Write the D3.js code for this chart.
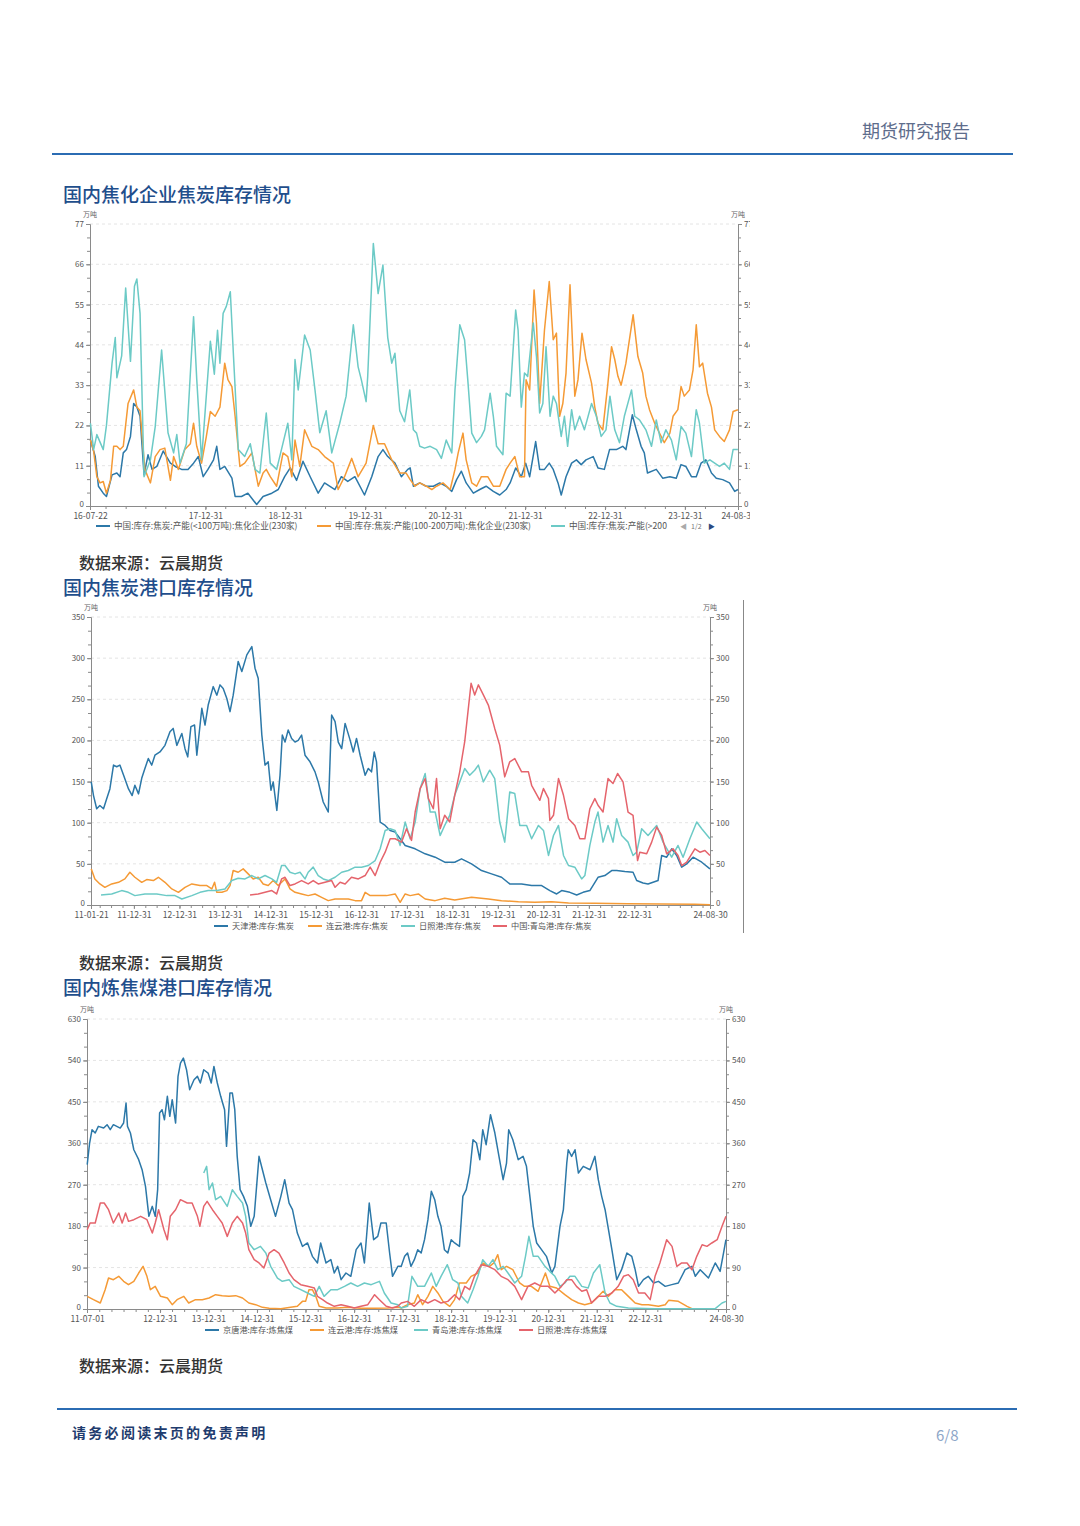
<!DOCTYPE html>
<html>
<head>
<meta charset="utf-8">
<script src="https://cdn.jsdelivr.net/npm/d3@7"></script>
<style>
  body { margin: 0; background: #fff; }
  text { font-family: "Noto Sans CJK SC", "Noto Sans", sans-serif; }
</style>
</head>
<body>
<div id="page"></div>
<script>
"use strict"

/* ---- data: chart 1, coke stock at coking plants (decimal year, 10k t) ---- */
let plantNames = ["中国:库存:焦炭:产能(<100万吨):焦化企业(230家)",
    "中国:库存:焦炭:产能(100-200万吨):焦化企业(230家)",
    "中国:库存:焦炭:产能(>200万吨):焦化企业(230家)"];
let plantTickLabels = ["16-07-22", "17-12-31", "18-12-31", "19-12-31", "20-12-31",
    "21-12-31", "22-12-31", "23-12-31", "24-08-30"];
let plantYTicks = [0, 11, 22, 33, 44, 55, 66, 77];

let plantSmall = [[2016.56,18],[2016.62,13.5],[2016.66,5.4],[2016.72,3.5],[2016.76,2.6],[2016.83,8.5],[2016.89,9],[2016.93,8],[2016.97,14.5],[2017.01,15.4],[2017.06,19],[2017.10,28],[2017.14,27],[2017.18,24.5],[2017.23,8.5],[2017.28,14],[2017.33,10],[2017.39,10.8],[2017.47,15],[2017.56,11.7],[2017.62,10.8],[2017.70,10],[2017.78,10],[2017.85,11.7],[2017.91,13.5],[2017.97,8],[2018.03,10],[2018.10,12.6],[2018.14,16.3],[2018.18,10],[2018.24,10.8],[2018.33,7.6],[2018.37,2.6],[2018.45,2.6],[2018.53,3.5],[2018.64,0.4],[2018.72,2.6],[2018.83,3.5],[2018.91,4.5],[2018.99,8],[2019.06,10.4],[2019.14,7],[2019.22,12.2],[2019.31,8],[2019.41,3.5],[2019.49,6.3],[2019.62,4.5],[2019.70,8],[2019.78,6.7],[2019.87,8],[2019.99,3],[2020.08,8],[2020.16,13.5],[2020.22,15.4],[2020.28,13.5],[2020.37,11.7],[2020.45,8],[2020.53,10],[2020.56,10.4],[2020.60,5.4],[2020.68,6.3],[2020.76,5.4],[2020.85,5.4],[2020.93,6.3],[2021.01,5.4],[2021.08,4],[2021.14,7.2],[2021.20,9.5],[2021.26,6.3],[2021.35,3.5],[2021.43,4.5],[2021.51,5.4],[2021.60,4],[2021.68,3],[2021.76,4.5],[2021.81,6.3],[2021.88,10.4],[2021.95,8],[2022.005,11.7],[2022.055,8],[2022.13,17.6],[2022.18,10],[2022.24,10],[2022.30,11.7],[2022.35,10],[2022.41,6.3],[2022.45,3],[2022.51,8],[2022.58,11.7],[2022.64,12.6],[2022.70,11.3],[2022.76,12.6],[2022.85,13.5],[2022.91,10.4],[2022.99,10],[2023.055,15.4],[2023.14,15.4],[2023.22,16.3],[2023.26,15.4],[2023.34,24.9],[2023.39,20.8],[2023.45,16.3],[2023.49,14.5],[2023.53,9],[2023.64,10],[2023.72,7.6],[2023.81,8],[2023.89,7.6],[2023.95,11.3],[2024.01,10.8],[2024.08,8],[2024.14,8],[2024.20,11.7],[2024.26,12.6],[2024.33,9],[2024.39,7.6],[2024.47,7.2],[2024.555,6.3],[2024.62,4],[2024.66,4.5]];

let plantMid = [[2016.56,18],[2016.60,15],[2016.64,8],[2016.68,6.3],[2016.72,6.7],[2016.76,3.5],[2016.81,7],[2016.85,16.3],[2016.89,16.3],[2016.93,15.4],[2016.97,16.3],[2017.03,28],[2017.10,31.7],[2017.14,27],[2017.18,26],[2017.24,10],[2017.31,6.3],[2017.37,13.5],[2017.43,15.4],[2017.49,15.8],[2017.56,7],[2017.60,13.5],[2017.66,10],[2017.74,15.4],[2017.81,17],[2017.85,22.6],[2017.89,16.3],[2017.95,11.7],[2018.01,19],[2018.06,25.8],[2018.12,24.5],[2018.18,27],[2018.24,39],[2018.28,34.5],[2018.33,32.6],[2018.37,24.5],[2018.43,10.8],[2018.49,11.7],[2018.58,14.5],[2018.66,5.4],[2018.72,9],[2018.76,10],[2018.81,8],[2018.89,5.4],[2018.97,14.5],[2019.03,13.5],[2019.08,8],[2019.12,18],[2019.18,10.8],[2019.24,20.8],[2019.33,16.3],[2019.41,15.4],[2019.49,13.5],[2019.60,11.7],[2019.66,4.5],[2019.74,8],[2019.83,13],[2019.91,8],[2020.01,11.7],[2020.10,22],[2020.16,17],[2020.24,17],[2020.33,12.6],[2020.43,9],[2020.51,9],[2020.56,7.2],[2020.62,5.4],[2020.68,6.3],[2020.76,5.4],[2020.83,4.5],[2020.89,5.4],[2020.97,6.3],[2021.06,4.5],[2021.12,10],[2021.16,14.5],[2021.22,19.9],[2021.26,12.6],[2021.33,6.3],[2021.39,5.4],[2021.45,8],[2021.53,8],[2021.60,5.4],[2021.68,5.4],[2021.76,10],[2021.81,11.7],[2021.87,13.5],[2021.93,8],[2021.99,8],[2022.01,34.5],[2022.055,31.7],[2022.11,59],[2022.14,49.9],[2022.18,28],[2022.24,48],[2022.30,61.3],[2022.35,45.4],[2022.39,47.2],[2022.43,24.5],[2022.47,28],[2022.51,36.3],[2022.56,60.4],[2022.62,30],[2022.66,34.5],[2022.71,47.2],[2022.76,40],[2022.83,33.5],[2022.87,27],[2022.91,22.6],[2022.97,20.8],[2023.03,32.6],[2023.08,43.5],[2023.12,40],[2023.16,35.4],[2023.20,33],[2023.26,39],[2023.35,52.2],[2023.41,40.8],[2023.47,36.3],[2023.51,30],[2023.555,26.3],[2023.62,22.6],[2023.68,19.9],[2023.74,17.3],[2023.81,19.9],[2023.85,24.5],[2023.91,26.3],[2023.95,32.6],[2023.99,30],[2024.055,31.7],[2024.10,37.2],[2024.14,49.5],[2024.18,38],[2024.22,39],[2024.28,30.8],[2024.33,27],[2024.37,20.8],[2024.43,19],[2024.49,17.6],[2024.555,20.8],[2024.60,25.8],[2024.66,26.3]];

let plantLarge = [[2016.56,22.6],[2016.60,15.4],[2016.64,19.5],[2016.72,15.4],[2016.76,22],[2016.83,39],[2016.87,46],[2016.89,35],[2016.95,41],[2017.00,59.5],[2017.06,39.5],[2017.11,60],[2017.14,62],[2017.18,52.6],[2017.23,8],[2017.31,12.6],[2017.37,21.7],[2017.45,42.6],[2017.53,20],[2017.60,14.5],[2017.64,19.5],[2017.68,11.7],[2017.76,17],[2017.85,51.7],[2017.89,34.5],[2017.95,12.6],[2018.06,45],[2018.11,36],[2018.15,48],[2018.18,39],[2018.22,52.6],[2018.26,54.5],[2018.31,58.5],[2018.35,40.8],[2018.41,15.4],[2018.49,13.5],[2018.56,17],[2018.62,10],[2018.68,9],[2018.76,25.4],[2018.81,11.7],[2018.89,10],[2018.95,15.4],[2019.03,22.6],[2019.08,12.6],[2019.12,40],[2019.16,31.7],[2019.24,46.7],[2019.31,42.6],[2019.37,31.7],[2019.43,20],[2019.51,26],[2019.58,14.5],[2019.68,22.6],[2019.76,30],[2019.85,49.5],[2019.91,38],[2019.95,34.5],[2020.01,28.5],[2020.03,35.4],[2020.10,71.7],[2020.16,58],[2020.22,65.8],[2020.28,46],[2020.33,39],[2020.37,41.7],[2020.43,26],[2020.49,23],[2020.555,31.7],[2020.60,20.8],[2020.64,19.9],[2020.68,16.3],[2020.74,15.8],[2020.81,16.3],[2020.89,15.4],[2020.95,13],[2021.01,18],[2021.08,14.5],[2021.12,31.7],[2021.18,49.5],[2021.24,45.4],[2021.28,34.5],[2021.33,19.9],[2021.39,17.3],[2021.45,19],[2021.49,20.8],[2021.56,30.8],[2021.60,24.5],[2021.64,16.3],[2021.72,14],[2021.76,30.8],[2021.81,30],[2021.88,53.5],[2021.91,48],[2021.95,27],[2021.99,36.3],[2022.03,35.4],[2022.10,50],[2022.14,40.8],[2022.18,25.4],[2022.22,28],[2022.26,43.5],[2022.31,24.5],[2022.35,30],[2022.39,28],[2022.45,19],[2022.49,24.5],[2022.53,16.3],[2022.58,26.3],[2022.62,20.8],[2022.68,24.5],[2022.74,20.8],[2022.83,28],[2022.89,24.5],[2022.95,19],[2023.01,20.8],[2023.06,30],[2023.12,20.8],[2023.18,17.3],[2023.24,24.5],[2023.33,31.7],[2023.37,24.5],[2023.43,23.5],[2023.51,20.8],[2023.58,16.3],[2023.64,23.5],[2023.70,17.3],[2023.76,20.8],[2023.83,18],[2023.89,12.6],[2023.95,21.7],[2024.01,19.9],[2024.08,13.5],[2024.14,26.3],[2024.18,22.6],[2024.24,11.7],[2024.31,12.6],[2024.37,11.7],[2024.43,10.8],[2024.49,11.7],[2024.555,10],[2024.60,15.4],[2024.66,15.4]];

/* ---- data: chart 2, coke stock at ports ---- */
let cokePortNames = ["天津港:库存:焦炭", "连云港:库存:焦炭", "日照港:库存:焦炭", "中国:青岛港:库存:焦炭"];
let cokePortTickLabels = ["11-01-21", "11-12-31", "12-12-31", "13-12-31", "14-12-31", "15-12-31",
    "16-12-31", "17-12-31", "18-12-31", "19-12-31", "20-12-31", "21-12-31", "22-12-31", "24-08-30"];
let cokePortYTicks = [0, 50, 100, 150, 200, 250, 300, 350];

let tianjinCoke = [[2011.06,149.6],[2011.11,133],[2011.18,117],[2011.25,121],[2011.33,117],[2011.40,129],[2011.47,141],[2011.55,170],[2011.62,168],[2011.69,170],[2011.77,158],[2011.88,141],[2011.96,133],[2012.02,145.5],[2012.10,135],[2012.17,154],[2012.24,166],[2012.315,178],[2012.39,170],[2012.46,182],[2012.57,186],[2012.68,194],[2012.79,210.6],[2012.86,214.6],[2012.94,194],[2013.05,208.5],[2013.12,190],[2013.18,180],[2013.25,216.7],[2013.33,218.7],[2013.38,182],[2013.49,239],[2013.56,218.7],[2013.63,243],[2013.74,265.4],[2013.82,255],[2013.89,267.5],[2013.96,263],[2014.04,251],[2014.11,235],[2014.18,255],[2014.29,296],[2014.37,283.7],[2014.48,304],[2014.59,314],[2014.66,287.8],[2014.73,275.6],[2014.81,206.5],[2014.88,170],[2014.95,174],[2015.01,139.4],[2015.06,149.6],[2015.14,115],[2015.21,157.7],[2015.26,206.5],[2015.32,198],[2015.39,212.6],[2015.465,202.4],[2015.54,198],[2015.61,200],[2015.685,206.5],[2015.76,182],[2015.87,174],[2015.98,161.8],[2016.05,149.6],[2016.16,125.2],[2016.27,113],[2016.345,230.9],[2016.42,222.8],[2016.49,198],[2016.565,190],[2016.64,220.7],[2016.75,200.4],[2016.82,186],[2016.89,202.4],[2016.97,182],[2017.08,157.7],[2017.15,166],[2017.22,161.8],[2017.28,186],[2017.33,174],[2017.41,100.8],[2017.52,96.7],[2017.63,90.6],[2017.74,88.6],[2017.85,80.5],[2017.96,72.4],[2018.18,68.3],[2018.40,62.2],[2018.62,58.1],[2018.83,52],[2019.05,52],[2019.20,56.1],[2019.42,50],[2019.64,41.9],[2019.86,37.8],[2020.08,33.7],[2020.26,25.6],[2020.52,25.6],[2020.74,23.6],[2020.96,23.6],[2021.14,17.5],[2021.29,13.4],[2021.40,17.5],[2021.58,15.4],[2021.73,12.2],[2021.87,15.4],[2022.02,17.5],[2022.20,33.7],[2022.35,35.8],[2022.50,41.9],[2022.61,41.9],[2022.79,40.7],[2022.97,39.8],[2023.05,29.7],[2023.19,26.8],[2023.30,25.6],[2023.52,29.7],[2023.60,60.2],[2023.71,58.1],[2023.82,68.3],[2023.93,60.2],[2024.04,46],[2024.15,50],[2024.29,58.1],[2024.48,52],[2024.66,43.9]];

let lianyunCoke = [[2011.06,43.9],[2011.14,31.7],[2011.25,25.6],[2011.36,21.5],[2011.51,25.6],[2011.66,27.6],[2011.80,31.7],[2011.91,39.8],[2012.02,33.7],[2012.17,27.6],[2012.28,30.9],[2012.425,29.7],[2012.535,33.7],[2012.68,27.6],[2012.83,19.5],[2012.975,15.4],[2013.12,21.5],[2013.27,25.6],[2013.45,23.6],[2013.60,23.6],[2013.71,19.5],[2013.77,27.6],[2013.82,15.4],[2013.93,15.4],[2014.04,17.5],[2014.11,23.6],[2014.18,41.9],[2014.29,39.8],[2014.40,43.9],[2014.51,37.8],[2014.62,31.7],[2014.73,33.7],[2014.84,25.6],[2014.95,23.6],[2015.06,29.7],[2015.17,23.6],[2015.32,31.7],[2015.43,19.5],[2015.54,15.4],[2015.685,13.4],[2015.83,11.4],[2015.98,13.4],[2016.125,9.3],[2016.27,5.3],[2016.42,7.3],[2016.565,7.3],[2016.71,7.3],[2016.86,5.3],[2017.00,5.3],[2017.08,15.4],[2017.19,11.4],[2017.37,11.4],[2017.55,11.4],[2017.74,13.4],[2017.85,3.3],[2017.96,13.4],[2018.07,11.4],[2018.25,13.4],[2018.40,7.3],[2018.62,5.3],[2018.83,8.1],[2019.05,6.1],[2019.42,9.3],[2019.79,7.3],[2020.08,5.3],[2020.45,4],[2020.81,3.3],[2021.18,4],[2021.55,2.4],[2022.13,2],[2022.86,1.6],[2023.60,1.2],[2024.33,0.8],[2024.66,0.4]];

let rizhaoCoke = [[2011.275,12.2],[2011.51,13.4],[2011.73,17.5],[2011.875,15.4],[2012.02,11.4],[2012.24,13.4],[2012.50,13.4],[2012.72,11.4],[2012.90,11.4],[2013.05,7.3],[2013.27,11.4],[2013.45,15.4],[2013.63,17.5],[2013.82,17.5],[2014.00,19.5],[2014.15,29.7],[2014.29,32.5],[2014.44,31.7],[2014.59,35.8],[2014.73,31.7],[2014.88,35.8],[2015.03,31.7],[2015.135,27.6],[2015.245,48],[2015.32,48],[2015.43,39.8],[2015.54,37.8],[2015.65,39.8],[2015.76,31.7],[2015.83,39.8],[2015.94,46],[2016.05,35.8],[2016.16,31.7],[2016.27,29.7],[2016.42,33.7],[2016.565,39.8],[2016.71,41.9],[2016.86,46],[2017.00,46],[2017.15,48],[2017.30,54],[2017.41,68.3],[2017.52,90.6],[2017.63,92.7],[2017.74,90.6],[2017.85,72.4],[2017.96,100.8],[2018.07,80.5],[2018.18,100.8],[2018.29,141.5],[2018.40,159.8],[2018.51,113],[2018.62,113],[2018.73,84.5],[2018.83,96.7],[2018.94,109],[2019.05,133.3],[2019.16,149.6],[2019.27,165.8],[2019.38,157.7],[2019.49,163.8],[2019.57,170],[2019.68,149.6],[2019.82,163.8],[2019.93,153.7],[2020.04,100.8],[2020.15,76.4],[2020.26,137.4],[2020.37,135.4],[2020.48,96.7],[2020.63,96.7],[2020.74,80.5],[2020.89,96.7],[2021.00,90.6],[2021.11,60.2],[2021.22,84.5],[2021.33,96.7],[2021.44,60.2],[2021.55,48],[2021.69,46],[2021.84,31.7],[2021.91,35.8],[2022.02,72.4],[2022.13,100.8],[2022.20,113],[2022.31,76.4],[2022.42,96.7],[2022.53,76.4],[2022.61,104.9],[2022.72,84.5],[2022.86,76.4],[2022.97,60.2],[2023.05,64.2],[2023.16,92.7],[2023.30,84.5],[2023.49,96.7],[2023.63,76.4],[2023.82,58.1],[2023.96,72.4],[2024.07,58.1],[2024.22,80.5],[2024.37,100.8],[2024.48,92.7],[2024.66,80.5]];

let qingdaoCoke = [[2014.55,12.2],[2014.73,13.4],[2014.88,15.4],[2015.03,17.5],[2015.135,13.4],[2015.245,31.7],[2015.32,33.7],[2015.43,23.6],[2015.54,25.6],[2015.685,29.7],[2015.83,25.6],[2015.94,29.7],[2016.05,25.6],[2016.20,27.6],[2016.345,29.7],[2016.42,21.5],[2016.53,27.6],[2016.64,25.6],[2016.78,33.7],[2016.93,31.7],[2017.08,35.8],[2017.19,46],[2017.30,35.8],[2017.41,52],[2017.52,64.2],[2017.63,80.5],[2017.74,80.5],[2017.88,76.4],[2017.99,92.7],[2018.10,78.5],[2018.18,113],[2018.29,141.5],[2018.40,153.7],[2018.47,129.3],[2018.58,117],[2018.65,153.7],[2018.73,92.7],[2018.83,109],[2018.94,100.8],[2019.05,133.3],[2019.16,161.8],[2019.27,198.4],[2019.41,269.5],[2019.49,255.3],[2019.57,267.5],[2019.68,255.3],[2019.79,243],[2019.93,214.6],[2020.04,194.3],[2020.15,155.7],[2020.26,174],[2020.37,178],[2020.52,161.8],[2020.67,161.8],[2020.74,145.5],[2020.92,127.2],[2021.00,141.5],[2021.11,129.3],[2021.14,102.8],[2021.22,109],[2021.33,153.7],[2021.44,133.3],[2021.55,104.9],[2021.69,96.7],[2021.80,80.5],[2021.91,80.5],[2022.02,117],[2022.13,129.3],[2022.20,121.2],[2022.31,113],[2022.42,153.7],[2022.53,147.6],[2022.63,159.8],[2022.75,149.6],[2022.86,113],[2022.97,109],[2023.07,54],[2023.12,64.2],[2023.27,62.2],[2023.38,76.4],[2023.49,94.7],[2023.60,84.5],[2023.71,62.2],[2023.85,68.3],[2023.96,60.2],[2024.04,48],[2024.15,52],[2024.33,68.3],[2024.44,64.2],[2024.55,66.3],[2024.66,60.2]];

/* ---- data: chart 3, coking coal stock at ports ---- */
let coalPortNames = ["京唐港:库存:炼焦煤", "连云港:库存:炼焦煤", "青岛港:库存:炼焦煤", "日照港:库存:炼焦煤"];
let coalPortTickLabels = ["11-07-01", "12-12-31", "13-12-31", "14-12-31", "15-12-31", "16-12-31",
    "17-12-31", "18-12-31", "19-12-31", "20-12-31", "21-12-31", "22-12-31", "24-08-30"];
let coalPortYTicks = [0, 90, 180, 270, 360, 450, 540, 630];

let jingtangCoal = [[2011.50,313.5],[2011.55,360.6],[2011.60,389.5],[2011.665,382.3],[2011.73,396.8],[2011.84,393.1],[2011.91,400.4],[2011.975,389.5],[2012.04,400.4],[2012.11,396.8],[2012.18,393.1],[2012.25,404],[2012.30,447.4],[2012.33,396.8],[2012.39,382.3],[2012.46,346],[2012.56,324.4],[2012.63,302.6],[2012.70,266.4],[2012.77,201.3],[2012.84,223],[2012.90,201.3],[2012.95,259.2],[2012.99,425.7],[2013.04,433],[2013.09,411.2],[2013.15,462],[2013.20,418.5],[2013.25,454.7],[2013.32,404],[2013.37,505.4],[2013.42,534.3],[2013.48,545.2],[2013.545,519.8],[2013.61,476.4],[2013.70,498],[2013.77,505.4],[2013.83,491],[2013.90,519.8],[2013.99,512.6],[2014.055,491],[2014.11,527],[2014.18,491],[2014.25,462],[2014.33,433],[2014.37,353.3],[2014.44,469.2],[2014.49,469.2],[2014.54,433],[2014.59,331.6],[2014.65,259.2],[2014.72,244.7],[2014.80,223],[2014.87,179.6],[2014.94,201.3],[2015.04,331.6],[2015.11,302.6],[2015.18,273.7],[2015.28,237.5],[2015.38,201.3],[2015.49,244.7],[2015.57,281],[2015.66,230.2],[2015.73,215.7],[2015.83,165],[2015.935,136.1],[2016.04,143.4],[2016.14,114.4],[2016.245,100],[2016.31,143.4],[2016.42,100],[2016.52,107.2],[2016.59,78.2],[2016.66,92.7],[2016.73,63.7],[2016.83,78.2],[2016.93,71],[2017.04,128.9],[2017.14,143.4],[2017.21,100],[2017.31,230.2],[2017.40,150.6],[2017.485,157.8],[2017.55,186.8],[2017.66,186.8],[2017.73,121.6],[2017.79,71],[2017.90,92.7],[2017.97,92.7],[2018.04,114.4],[2018.10,121.6],[2018.17,92.7],[2018.24,107.2],[2018.31,128.9],[2018.38,121.6],[2018.45,150.6],[2018.52,194],[2018.59,255.6],[2018.66,237.5],[2018.725,201.3],[2018.79,179.6],[2018.86,128.9],[2018.93,121.6],[2019.00,150.6],[2019.07,143.4],[2019.17,136.1],[2019.24,244.7],[2019.31,259.2],[2019.38,295.4],[2019.45,367.8],[2019.52,360.6],[2019.59,324.4],[2019.65,389.5],[2019.72,357],[2019.81,422.1],[2019.90,382.3],[2019.96,346],[2020.07,280.9],[2020.14,317.1],[2020.185,389.5],[2020.27,367.8],[2020.38,324.4],[2020.48,331.6],[2020.55,309.9],[2020.62,244.7],[2020.69,179.6],[2020.76,143.4],[2020.86,128.9],[2020.96,114.4],[2021.07,78.2],[2021.135,92.7],[2021.24,179.6],[2021.31,215.7],[2021.38,317.1],[2021.41,346],[2021.48,331.6],[2021.55,346],[2021.62,295.4],[2021.72,309.9],[2021.86,302.6],[2021.96,331.6],[2022.03,280.9],[2022.10,244.7],[2022.17,215.7],[2022.24,172.3],[2022.31,128.9],[2022.41,63.7],[2022.51,85.4],[2022.62,121.6],[2022.72,114.4],[2022.79,85.4],[2022.86,49.2],[2022.96,63.7],[2023.06,71],[2023.17,56.5],[2023.27,60.1],[2023.41,49.2],[2023.545,52.9],[2023.68,56.5],[2023.82,85.4],[2023.96,92.7],[2024.03,71],[2024.13,85.4],[2024.30,67.3],[2024.44,100],[2024.54,81.8],[2024.61,121.6],[2024.66,150.6]];

let lianyunCoal = [[2011.50,27.5],[2011.63,20.3],[2011.77,13],[2011.87,42],[2011.94,67.3],[2012.04,63.7],[2012.15,71],[2012.25,60.1],[2012.35,52.9],[2012.46,60.1],[2012.56,78.2],[2012.65,92.7],[2012.73,71],[2012.80,42],[2012.90,49.2],[2013.01,27.5],[2013.15,23.9],[2013.25,9.4],[2013.35,20.3],[2013.49,27.5],[2013.59,13],[2013.73,20.3],[2013.87,20.3],[2014.01,23.9],[2014.145,31.1],[2014.28,29],[2014.42,27.5],[2014.56,29],[2014.70,23.9],[2014.83,13],[2014.97,9.4],[2015.11,3.6],[2015.25,1.4],[2015.49,0.7],[2015.69,3.6],[2015.83,5.8],[2015.935,16.6],[2016.00,16.6],[2016.07,42],[2016.14,42],[2016.21,27.5],[2016.28,5.8],[2016.42,2.2],[2016.66,2.2],[2016.865,3.6],[2017.14,1.4],[2017.42,1.4],[2017.69,2.2],[2017.90,3.6],[2017.97,2.2],[2018.10,9.4],[2018.24,13],[2018.31,31.1],[2018.41,9.4],[2018.52,27.5],[2018.62,49.2],[2018.725,34.8],[2018.83,16.6],[2018.97,5.8],[2019.07,20.3],[2019.17,56.5],[2019.31,56.5],[2019.41,71],[2019.55,78.2],[2019.65,100],[2019.79,92.7],[2019.88,100],[2019.96,118],[2020.03,85.4],[2020.14,92.7],[2020.27,85.4],[2020.41,56.5],[2020.51,49.2],[2020.65,49.2],[2020.79,38.4],[2020.86,56.5],[2020.94,78.2],[2021.03,49.2],[2021.17,45.6],[2021.34,31.1],[2021.48,20.3],[2021.62,13],[2021.75,9.4],[2021.89,13],[2022.03,27.5],[2022.13,38.4],[2022.24,27.5],[2022.37,42],[2022.51,42],[2022.65,27.5],[2022.79,13],[2022.93,9.4],[2023.06,9.4],[2023.27,5.8],[2023.41,9.4],[2023.48,18.8],[2023.68,16.6],[2023.86,5.8],[2023.96,0.7]];

let qingdaoCoal = [[2013.90,295.4],[2013.96,309.9],[2014.01,259.2],[2014.08,273.7],[2014.145,237.5],[2014.25,244.7],[2014.385,223],[2014.49,259.2],[2014.59,244.7],[2014.70,230.2],[2014.765,201.3],[2014.83,143.4],[2014.94,128.9],[2015.07,136.1],[2015.18,121.6],[2015.28,92.7],[2015.42,67.3],[2015.52,60.1],[2015.66,63.7],[2015.76,49.2],[2015.90,42],[2016.04,34.8],[2016.18,27.5],[2016.28,49.2],[2016.38,27.5],[2016.52,42],[2016.66,42],[2016.80,49.2],[2016.93,56.5],[2017.07,49.2],[2017.21,56.5],[2017.35,52.9],[2017.52,60.1],[2017.62,34.8],[2017.76,13],[2017.90,9.4],[2017.97,2.2],[2018.10,5.8],[2018.19,71],[2018.31,49.2],[2018.45,49.2],[2018.59,78.2],[2018.69,49.2],[2018.79,71],[2018.92,96.3],[2019.03,63.7],[2019.14,56.5],[2019.21,27.5],[2019.34,13],[2019.45,42],[2019.55,71],[2019.65,107.2],[2019.76,92.7],[2019.86,107.2],[2019.96,85.4],[2020.07,92.7],[2020.17,78.2],[2020.31,56.5],[2020.45,71],[2020.53,114.4],[2020.60,157.8],[2020.69,114.4],[2020.79,114.4],[2020.93,92.7],[2021.03,81.8],[2021.135,71],[2021.24,49.2],[2021.34,56.5],[2021.445,71],[2021.55,71],[2021.69,49.2],[2021.82,45.6],[2021.93,78.2],[2022.06,96.3],[2022.17,34.8],[2022.27,13],[2022.41,5.8],[2022.65,2.2],[2023.20,0.7],[2023.89,0.7],[2024.44,0.7],[2024.58,13],[2024.66,16.6]];

let rizhaoCoal = [[2011.50,172.3],[2011.56,186.8],[2011.665,186.8],[2011.77,230.2],[2011.85,230.2],[2011.94,215.7],[2012.04,186.8],[2012.15,208.5],[2012.22,186.8],[2012.29,208.5],[2012.35,190.4],[2012.46,194],[2012.60,201.3],[2012.73,194],[2012.84,165],[2012.90,186.8],[2012.97,215.7],[2013.08,172.3],[2013.15,150.6],[2013.21,201.3],[2013.32,215.7],[2013.42,237.5],[2013.56,230.2],[2013.66,230.2],[2013.77,201.3],[2013.82,179.6],[2013.90,223],[2013.97,233.9],[2014.08,215.7],[2014.18,201.3],[2014.28,186.8],[2014.385,157.8],[2014.49,186.8],[2014.59,201.3],[2014.70,186.8],[2014.765,165],[2014.83,128.9],[2014.94,107.2],[2015.04,100],[2015.14,89],[2015.25,121.6],[2015.35,128.9],[2015.45,121.6],[2015.56,100],[2015.66,78.2],[2015.76,63.7],[2015.90,52.9],[2016.04,49.2],[2016.18,45.6],[2016.245,27.5],[2016.35,20.3],[2016.45,13],[2016.59,5.8],[2016.73,9.4],[2016.865,5.8],[2017.00,2.2],[2017.14,5.8],[2017.28,9.4],[2017.42,31.1],[2017.52,20.3],[2017.66,5.8],[2017.79,2.2],[2017.90,5.8],[2017.97,13],[2018.10,16.6],[2018.24,5.8],[2018.38,20.3],[2018.52,13],[2018.66,20.3],[2018.79,13],[2018.93,16.6],[2019.07,31.1],[2019.17,20.3],[2019.28,49.2],[2019.38,42],[2019.48,71],[2019.62,96.3],[2019.76,92.7],[2019.90,85.4],[2020.03,71],[2020.17,63.7],[2020.31,49.2],[2020.45,20.3],[2020.58,49.2],[2020.72,56.5],[2020.86,49.2],[2021.00,49.2],[2021.135,34.8],[2021.27,49.2],[2021.38,63.7],[2021.48,63.7],[2021.58,49.2],[2021.69,38.4],[2021.79,42],[2021.89,13],[2022.03,27.5],[2022.17,27.5],[2022.31,34.8],[2022.44,49.2],[2022.55,71],[2022.65,74.6],[2022.75,63.7],[2022.86,34.8],[2022.99,34.8],[2023.10,20.3],[2023.20,71],[2023.30,100],[2023.44,150.6],[2023.55,136.1],[2023.65,92.7],[2023.75,100],[2023.86,100],[2023.96,85.4],[2024.06,114.4],[2024.17,139.7],[2024.27,136.1],[2024.37,143.4],[2024.48,150.6],[2024.58,179.6],[2024.66,201.3]];

/* ---- drawing ---- */
let svgWidth = 1080;
let svgHeight = 1526;
let colors = ["#2c78a8", "#f59a35", "#6ccac6", "#e5646c"];
let parseTick = d3.timeParse("%y-%m-%d");

/* decimal year -> Date */
function yearToDate(y) {
    let yr = Math.floor(y);
    let a = new Date(yr, 0, 1), b = new Date(yr + 1, 0, 1);
    return new Date(a.getTime() + (y - yr) * (b - a));
}

let svg = d3.select("#page")
    .append("svg")
    .attr("width", svgWidth)
    .attr("height", svgHeight);

svg.append("rect").attr("width", svgWidth).attr("height", svgHeight).attr("fill", "#fff");
let defs = svg.append("defs");

/* header & footer */
svg.append("text")
    .attr("x", 862).attr("y", 138)
    .attr("font-size", 18).attr("fill", "#5e6d8c")
    .text("期货研究报告");
svg.append("line")
    .attr("x1", 52).attr("x2", 1013).attr("y1", 154).attr("y2", 154)
    .attr("stroke", "#2b6cb3").attr("stroke-width", 2);
svg.append("line")
    .attr("x1", 57).attr("x2", 1017).attr("y1", 1409).attr("y2", 1409)
    .attr("stroke", "#2b6cb3").attr("stroke-width", 2);
svg.append("text")
    .attr("x", 72).attr("y", 1438)
    .attr("font-size", 14).attr("font-weight", "bold")
    .attr("letter-spacing", 2.3).attr("fill", "#1f3c6e")
    .text("请务必阅读末页的免责声明");
svg.append("text")
    .attr("x", 936).attr("y", 1441)
    .attr("font-size", 15).attr("fill", "#8ea6c8")
    .text("6/8");

/* section titles and sources */
[["国内焦化企业焦炭库存情况", 202], ["国内焦炭港口库存情况", 595], ["国内炼焦煤港口库存情况", 995]]
    .forEach(function (t) {
        svg.append("text").attr("x", 63).attr("y", t[1])
            .attr("font-size", 19).attr("font-weight", 500).attr("fill", "#1f4e8c")
            .text(t[0]);
    });
[569, 969, 1372].forEach(function (yy) {
    svg.append("text").attr("x", 79).attr("y", yy)
        .attr("font-size", 16).attr("font-weight", 500).attr("fill", "#333")
        .text("数据来源：云晨期货");
});

function drawChart(o) {
    let clipId = "clip" + o.id;
    defs.append("clipPath").attr("id", clipId)
        .append("rect").attr("x", 0).attr("y", o.top).attr("width", o.clipRight).attr("height", o.bottom - o.top);
    let g = svg.append("g").attr("clip-path", "url(#" + clipId + ")");

    let x = d3.scaleTime()
        .domain([parseTick(o.tickLabels[0]), parseTick(o.tickLabels[o.tickLabels.length - 1])])
        .range([o.x0, o.x1]);
    let yMax = d3.max(o.yTicks);
    let y = d3.scaleLinear().domain([0, yMax]).range([o.y0, o.y1]);

    /* grid */
    g.append("g").selectAll("line")
        .data(o.yTicks.slice(1))
        .join("line")
        .attr("x1", o.x0).attr("x2", o.x1)
        .attr("y1", d => y(d)).attr("y2", d => y(d))
        .attr("stroke", "#e4e4e4").attr("stroke-dasharray", "3,3");

    function styleAxis(a, size) {
        a.selectAll("path, line").attr("stroke", "#8a8a8a");
        a.selectAll("text").attr("fill", "#555").attr("font-size", size)
            .attr("font-family", "'Noto Sans', 'DejaVu Sans', sans-serif");
    }

    let minor = d3.range(0, yMax + 0.01, o.yTicks[1] / 3);
    [[d3.axisLeft, o.x0], [d3.axisRight, o.x1]].forEach(function (p) {
        g.append("g").attr("transform", "translate(" + p[1] + ",0)")
            .call(p[0](y).tickValues(minor).tickSize(3).tickSizeOuter(0).tickFormat(""))
            .call(styleAxis, 8);
        let ax = g.append("g").attr("transform", "translate(" + p[1] + ",0)")
            .call(p[0](y).tickValues(o.yTicks).tickSize(4).tickSizeOuter(0).tickPadding(2))
            .call(styleAxis, 8);
        /* lift the "0" label a little so it clears the date labels */
        ax.selectAll(".tick text").filter(d => d === 0).attr("dy", "0.05em");
    });

    let xTicks = o.tickLabels.map(parseTick);
    g.append("g").attr("transform", "translate(0," + o.y0 + ")")
        .call(d3.axisBottom(x).tickValues(d3.timeMonth.every(3).range(x.domain()[0], x.domain()[1]))
            .tickSize(3).tickSizeOuter(0).tickFormat(""))
        .call(styleAxis, 8.5);
    g.append("g").attr("transform", "translate(0," + o.y0 + ")")
        .call(d3.axisBottom(x).tickValues(xTicks).tickSize(4).tickSizeOuter(0).tickPadding(2.5)
            .tickFormat((d, i) => o.tickLabels[i]))
        .call(styleAxis, 8.5);

    /* units */
    [o.x0, o.x1].forEach(function (ux) {
        g.append("text").attr("x", ux).attr("y", o.y1 - 7)
            .attr("text-anchor", "middle").attr("font-size", 7).attr("fill", "#666")
            .text("万吨");
    });

    /* lines */
    let line = d3.line()
        .x(d => x(yearToDate(d[0])))
        .y(d => y(d[1]));
    g.append("g").selectAll("path")
        .data(o.series)
        .join("path")
        .attr("d", d => line(d))
        .attr("fill", "none")
        .attr("stroke", (d, i) => colors[i])
        .attr("stroke-width", 1.5)
        .attr("stroke-linejoin", "round");

    /* legend; a label that runs past legendMax is cut short, like a scrolling legend */
    let lg = svg.append("g");
    o.names.forEach(function (name, i) {
        let lx = o.legendX[i];
        lg.append("line")
            .attr("x1", lx).attr("x2", lx + 14).attr("y1", o.legendY).attr("y2", o.legendY)
            .attr("stroke", colors[i]).attr("stroke-width", 2);
        let t = lg.append("text")
            .attr("x", lx + 18).attr("y", o.legendY + 3)
            .attr("font-size", o.legendSize).attr("fill", "#555")
            .text(name);
        if (o.legendMax) {
            let s = name;
            while (s.length > 1 && lx + 18 + t.node().getComputedTextLength() > o.legendMax) {
                s = s.slice(0, -1);
                t.text(s);
            }
        }
    });
    return g;
}

drawChart({
    id: 1, top: 205, bottom: 540, clipRight: 750,
    x0: 90, x1: 738, y0: 506, y1: 224,
    yTicks: plantYTicks, tickLabels: plantTickLabels,
    series: [plantSmall, plantMid, plantLarge], names: plantNames,
    legendX: [96, 317, 551], legendY: 526, legendSize: 8.6, legendMax: 674
});
/* legend pager of chart 1 */
svg.append("text").attr("x", 680).attr("y", 529).attr("font-size", 7).attr("fill", "#aaa").text("◀");
svg.append("text").attr("x", 691).attr("y", 529).attr("font-size", 7).attr("fill", "#777").text("1/2");
svg.append("text").attr("x", 708).attr("y", 529).attr("font-size", 7).attr("fill", "#2c4a80").text("▶");

drawChart({
    id: 2, top: 600, bottom: 935, clipRight: 743,
    x0: 91, x1: 710, y0: 905, y1: 617,
    yTicks: cokePortYTicks, tickLabels: cokePortTickLabels,
    series: [tianjinCoke, lianyunCoke, rizhaoCoke, qingdaoCoke], names: cokePortNames,
    legendX: [214, 308, 401, 493], legendY: 926, legendSize: 8.2
});
svg.append("line")
    .attr("x1", 743.5).attr("x2", 743.5).attr("y1", 600).attr("y2", 933)
    .attr("stroke", "#888").attr("stroke-width", 1);

drawChart({
    id: 3, top: 1000, bottom: 1340, clipRight: 760,
    x0: 87, x1: 726, y0: 1309, y1: 1019,
    yTicks: coalPortYTicks, tickLabels: coalPortTickLabels,
    series: [jingtangCoal, lianyunCoal, qingdaoCoal, rizhaoCoal], names: coalPortNames,
    legendX: [205, 310, 414, 519], legendY: 1330, legendSize: 8.2
});
</script>
</body>
</html>
